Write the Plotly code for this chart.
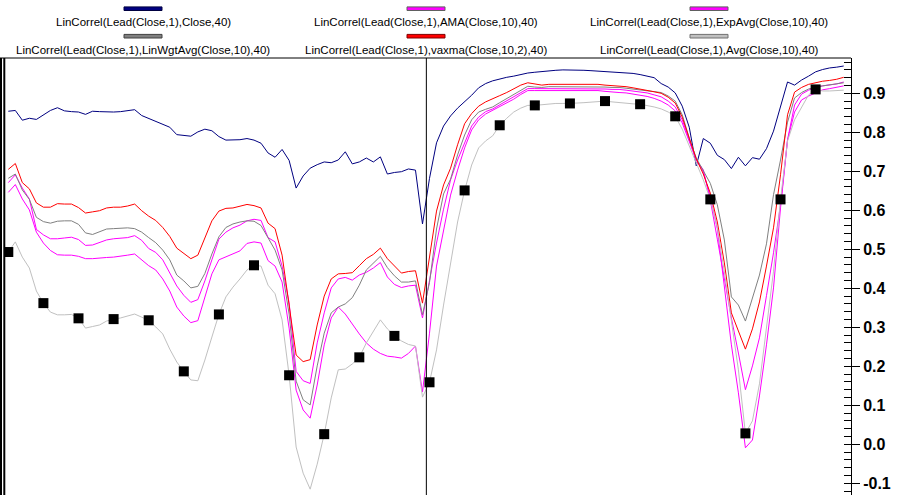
import plotly.graph_objects as go

# ---------------- data ----------------
bar_index = list(range(120))

close_corr = [
    0.854, 0.856, 0.831, 0.836, 0.833, 0.844, 0.856, 0.863, 0.855, 0.853,
    0.852, 0.846, 0.854, 0.853, 0.852, 0.852, 0.853, 0.856, 0.858, 0.843,
    0.835, 0.828, 0.821, 0.813, 0.794, 0.792, 0.790, 0.801, 0.808, 0.804,
    0.789, 0.780, 0.780, 0.781, 0.784, 0.780, 0.772, 0.747, 0.736, 0.756,
    0.728, 0.657, 0.688, 0.708, 0.717, 0.724, 0.722, 0.729, 0.750, 0.719,
    0.724, 0.734, 0.724, 0.737, 0.693, 0.697, 0.699, 0.706, 0.703, 0.565,
    0.682, 0.773, 0.816, 0.842, 0.862, 0.878, 0.895, 0.914, 0.925, 0.932,
    0.937, 0.941, 0.944, 0.948, 0.952, 0.954, 0.956, 0.958, 0.959, 0.960,
    0.960, 0.959, 0.959, 0.958, 0.957, 0.956, 0.955, 0.954, 0.953, 0.951,
    0.948, 0.944, 0.940, 0.925, 0.916, 0.901, 0.867, 0.813, 0.714, 0.784,
    0.772, 0.741, 0.730, 0.707, 0.736, 0.714, 0.735, 0.731, 0.758, 0.803,
    0.867, 0.929, 0.921, 0.934, 0.944, 0.955, 0.961, 0.965, 0.967, 0.970,
]

ama_corr = [
    0.646, 0.666, 0.629, 0.601, 0.544, 0.516, 0.497, 0.486, 0.485, 0.485,
    0.482, 0.476, 0.476, 0.478, 0.479, 0.480, 0.482, 0.485, 0.488, 0.474,
    0.458, 0.447, 0.424, 0.393, 0.352, 0.329, 0.312, 0.317, 0.378, 0.437,
    0.473, 0.481, 0.487, 0.496, 0.515, 0.519, 0.516, 0.471, 0.457, 0.416,
    0.298, 0.139, 0.088, 0.067, 0.152, 0.255, 0.324, 0.352, 0.334, 0.308,
    0.283, 0.260, 0.244, 0.233, 0.226, 0.224, 0.221, 0.233, 0.252, 0.134,
    0.285, 0.457, 0.552, 0.639, 0.703, 0.760, 0.806, 0.832, 0.847, 0.856,
    0.865, 0.875, 0.885, 0.897, 0.907, 0.907, 0.907, 0.907, 0.907, 0.907,
    0.907, 0.907, 0.907, 0.907, 0.907, 0.905, 0.903, 0.902, 0.901, 0.898,
    0.896, 0.892, 0.887, 0.880, 0.870, 0.855, 0.824, 0.775, 0.729, 0.698,
    0.634, 0.553, 0.404, 0.255, 0.132, -0.009, 0.011, 0.124, 0.255, 0.401,
    0.606, 0.780, 0.852, 0.883, 0.893, 0.900, 0.909, 0.912, 0.916, 0.919,
]

expavg_corr = [
    0.671, 0.691, 0.657, 0.629, 0.551, 0.537, 0.527, 0.527, 0.529, 0.531,
    0.525, 0.510, 0.511, 0.518, 0.524, 0.527, 0.528, 0.530, 0.535, 0.523,
    0.502, 0.492, 0.473, 0.439, 0.406, 0.382, 0.364, 0.371, 0.419, 0.473,
    0.526, 0.544, 0.555, 0.562, 0.573, 0.577, 0.574, 0.530, 0.519, 0.457,
    0.363, 0.187, 0.163, 0.156, 0.260, 0.337, 0.401, 0.424, 0.428, 0.421,
    0.434, 0.441, 0.452, 0.466, 0.429, 0.410, 0.402, 0.406, 0.408, 0.324,
    0.421, 0.516, 0.603, 0.678, 0.729, 0.775, 0.816, 0.839, 0.853, 0.860,
    0.870, 0.880, 0.891, 0.902, 0.912, 0.912, 0.912, 0.912, 0.912, 0.912,
    0.912, 0.912, 0.912, 0.912, 0.912, 0.911, 0.910, 0.910, 0.908, 0.906,
    0.903, 0.901, 0.896, 0.891, 0.880, 0.865, 0.832, 0.781, 0.729, 0.704,
    0.626, 0.526, 0.424, 0.324, 0.234, 0.140, 0.201, 0.273, 0.381, 0.491,
    0.614, 0.781, 0.870, 0.898, 0.908, 0.915, 0.919, 0.921, 0.924, 0.929,
]

linwgt_corr = [
    0.682, 0.693, 0.652, 0.628, 0.582, 0.571, 0.567, 0.572, 0.573, 0.573,
    0.564, 0.542, 0.538, 0.544, 0.552, 0.553, 0.554, 0.555, 0.553, 0.544,
    0.530, 0.517, 0.498, 0.473, 0.434, 0.419, 0.401, 0.405, 0.438, 0.488,
    0.532, 0.556, 0.565, 0.570, 0.573, 0.572, 0.561, 0.528, 0.498, 0.447,
    0.334, 0.162, 0.114, 0.101, 0.201, 0.285, 0.337, 0.352, 0.360, 0.376,
    0.408, 0.447, 0.464, 0.482, 0.453, 0.432, 0.416, 0.416, 0.419, 0.332,
    0.415, 0.552, 0.642, 0.680, 0.742, 0.793, 0.832, 0.852, 0.859, 0.865,
    0.876, 0.887, 0.898, 0.907, 0.918, 0.916, 0.915, 0.917, 0.917, 0.917,
    0.917, 0.917, 0.917, 0.917, 0.917, 0.916, 0.915, 0.915, 0.913, 0.911,
    0.909, 0.907, 0.904, 0.902, 0.893, 0.880, 0.845, 0.785, 0.734, 0.703,
    0.669, 0.614, 0.524, 0.378, 0.357, 0.316, 0.378, 0.434, 0.514, 0.640,
    0.729, 0.826, 0.888, 0.902, 0.911, 0.916, 0.919, 0.922, 0.924, 0.927,
]

vaxma_corr = [
    0.705, 0.720, 0.671, 0.655, 0.619, 0.608, 0.608, 0.617, 0.616, 0.616,
    0.607, 0.593, 0.596, 0.599, 0.606, 0.608, 0.608, 0.611, 0.616, 0.599,
    0.585, 0.574, 0.556, 0.533, 0.503, 0.489, 0.476, 0.485, 0.529, 0.573,
    0.598, 0.605, 0.606, 0.610, 0.615, 0.612, 0.606, 0.567, 0.553, 0.485,
    0.357, 0.229, 0.212, 0.217, 0.306, 0.380, 0.424, 0.437, 0.438, 0.440,
    0.458, 0.476, 0.487, 0.503, 0.476, 0.458, 0.439, 0.443, 0.445, 0.362,
    0.485, 0.598, 0.665, 0.708, 0.768, 0.822, 0.848, 0.867, 0.878, 0.885,
    0.894, 0.902, 0.912, 0.921, 0.927, 0.924, 0.921, 0.923, 0.923, 0.923,
    0.923, 0.923, 0.923, 0.923, 0.923, 0.921, 0.920, 0.919, 0.917, 0.914,
    0.911, 0.907, 0.904, 0.900, 0.890, 0.875, 0.839, 0.785, 0.732, 0.693,
    0.644, 0.570, 0.465, 0.337, 0.293, 0.244, 0.296, 0.365, 0.457, 0.555,
    0.691, 0.845, 0.903, 0.915, 0.923, 0.927, 0.931, 0.933, 0.936, 0.941,
]

avg_corr = [
    0.493, 0.519, 0.480, 0.452, 0.393, 0.362, 0.339, 0.332, 0.332, 0.333,
    0.323, 0.298, 0.302, 0.306, 0.316, 0.321, 0.324, 0.329, 0.334, 0.326,
    0.318, 0.301, 0.283, 0.244, 0.211, 0.187, 0.165, 0.163, 0.216, 0.275,
    0.333, 0.378, 0.403, 0.424, 0.447, 0.459, 0.457, 0.408, 0.386, 0.319,
    0.177, -0.007, -0.074, -0.115, -0.051, 0.026, 0.119, 0.191, 0.193, 0.206,
    0.223, 0.260, 0.291, 0.319, 0.296, 0.278, 0.265, 0.256, 0.252, 0.121,
    0.159, 0.242, 0.357, 0.467, 0.570, 0.651, 0.716, 0.760, 0.778, 0.791,
    0.818, 0.836, 0.852, 0.862, 0.869, 0.869, 0.871, 0.873, 0.874, 0.874,
    0.874, 0.875, 0.876, 0.877, 0.878, 0.880, 0.878, 0.876, 0.874, 0.873,
    0.872, 0.869, 0.865, 0.860, 0.852, 0.841, 0.808, 0.765, 0.721, 0.678,
    0.628, 0.555, 0.442, 0.319, 0.191, 0.028, 0.060, 0.155, 0.303, 0.444,
    0.628, 0.778, 0.832, 0.865, 0.896, 0.910, 0.906, 0.906, 0.907, 0.908,
]

series_names = [
    "LinCorrel(Lead(Close,1),Close,40)",
    "LinCorrel(Lead(Close,1),AMA(Close,10),40)",
    "LinCorrel(Lead(Close,1),ExpAvg(Close,10),40)",
    "LinCorrel(Lead(Close,1),LinWgtAvg(Close,10),40)",
    "LinCorrel(Lead(Close,1),vaxma(Close,10,2),40)",
    "LinCorrel(Lead(Close,1),Avg(Close,10),40)",
]
y_ticks = [-0.1, 0.0, 0.1, 0.2, 0.3, 0.4, 0.5, 0.6, 0.7, 0.8, 0.9]
marker_step = 5          # black squares on the Avg line every 5 bars
cursor_index = 59.55     # vertical cursor line

# ---------------- styling ----------------
series_values = [close_corr, ama_corr, expavg_corr, linwgt_corr, vaxma_corr, avg_corr]
series_colors = ["#000080", "#FF00FF", "#FF00FF", "#808080", "#FF0000", "#C0C0C0"]
swatch_border = ["#000040", "#606060", "#606060", "#404040", "#800000", "#707070"]

W, H = 907, 495
PL, PR, PT, PB = 5, 851, 58, 495   # plot area in pixels
X_RANGE = [-0.47, 120.04]
Y_RANGE = [-0.13, 0.9905]


def xp(px):
    return (px - PL) / (PR - PL)


def yp(py):
    return (PB - py) / (PB - PT)


fig = go.Figure()
for name, vals, col in zip(series_names, series_values, series_colors):
    fig.add_trace(go.Scatter(
        x=bar_index, y=vals, mode="lines", name=name,
        line=dict(color=col, width=1), showlegend=False, hoverinfo="skip",
    ))

fig.add_trace(go.Scatter(
    x=bar_index[::marker_step], y=avg_corr[::marker_step], mode="markers",
    marker=dict(symbol="square", size=10, color="black", line=dict(width=0)),
    showlegend=False, hoverinfo="skip",
))

# invisible trace to host the minor-tick axis
fig.add_trace(go.Scatter(x=[None], y=[None], yaxis="y2", showlegend=False))

shapes = []
annotations = []

# legend: 3 columns x 2 rows, swatch above centred text
col_centers = [143, 426, 709]
swatch_rows = [8.7, 36.2]
text_rows = [22.0, 49.5]
for k, name in enumerate(series_names):
    col = k % 3
    row = k // 3
    cx = col_centers[col]
    sy = swatch_rows[row]
    shapes.append(dict(
        type="rect", xref="paper", yref="paper",
        x0=xp(cx - 19), x1=xp(cx + 19), y0=yp(sy + 1.8), y1=yp(sy - 1.8),
        fillcolor=series_colors[k], line=dict(color=swatch_border[k], width=1),
    ))
    annotations.append(dict(
        text=name, xref="paper", yref="paper", x=xp(cx), y=yp(text_rows[row]),
        xanchor="center", yanchor="middle", showarrow=False,
        font=dict(family="Liberation Sans", size=11.5, color="black"),
    ))

# frame lines
shapes.append(dict(type="line", xref="paper", yref="paper",
                   x0=xp(0), x1=xp(PR), y0=1, y1=1,
                   line=dict(color="black", width=1)))
shapes.append(dict(type="rect", xref="paper", yref="paper",
                   x0=xp(0), x1=xp(2), y0=0, y1=1,
                   fillcolor="black", line=dict(width=0)))
shapes.append(dict(type="rect", xref="paper", yref="paper",
                   x0=xp(3.3), x1=xp(5.3), y0=0, y1=1,
                   fillcolor="black", line=dict(width=0)))
# cursor
shapes.append(dict(type="line", xref="x", yref="paper",
                   x0=cursor_index, x1=cursor_index, y0=0, y1=1,
                   line=dict(color="black", width=1)))

fig.update_layout(
    width=W, height=H,
    margin=dict(l=PL, r=W - PR, t=PT, b=H - PB, pad=0),
    paper_bgcolor="white", plot_bgcolor="white",
    showlegend=False,
    xaxis=dict(range=X_RANGE, visible=False, fixedrange=True),
    yaxis=dict(
        range=Y_RANGE, side="right", showgrid=False, zeroline=False,
        tickvals=y_ticks, ticktext=[f"{v:.1f}" for v in y_ticks],
        ticks="outside", ticklen=8, tickcolor="black", tickwidth=1,
        showline=True, linecolor="black", linewidth=1,
        tickfont=dict(family="Liberation Sans", size=16, color="black", weight="bold"),
    ),
    yaxis2=dict(
        range=Y_RANGE, overlaying="y", side="right", showgrid=False,
        zeroline=False, showticklabels=False, showline=False,
        tick0=0, dtick=0.02, ticks="inside", ticklen=7,
        tickcolor="black", tickwidth=1,
    ),
    shapes=shapes,
    annotations=annotations,
)

fig.write_html(
    "out.html",
    config={"displayModeBar": False},
    post_script="document.body.style.margin='0';document.body.style.padding='0';",
)
